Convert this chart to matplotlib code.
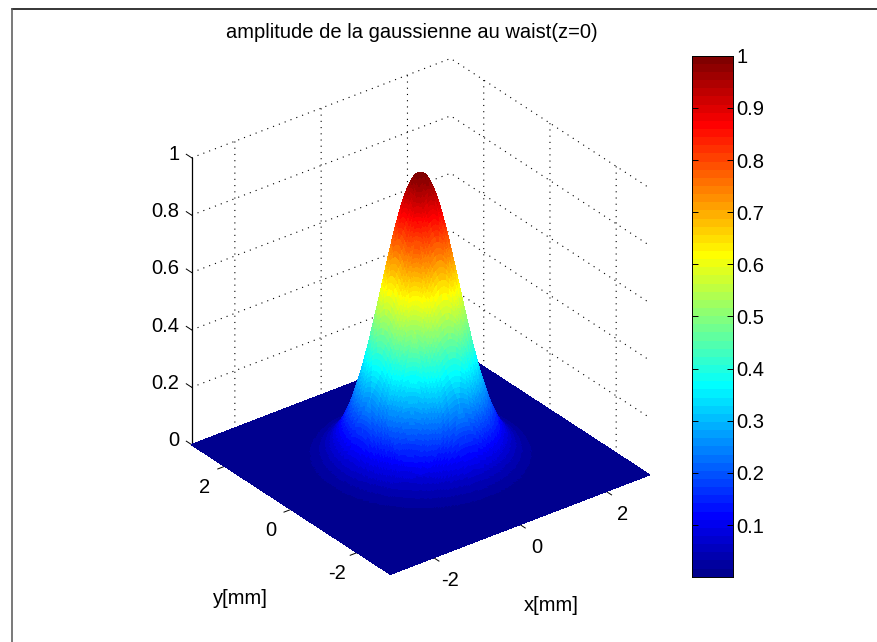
import numpy as np
import matplotlib
matplotlib.use("Agg")
import matplotlib.pyplot as plt
from matplotlib.colors import ListedColormap, Normalize
from matplotlib.lines import Line2D
from matplotlib.transforms import Affine2D
from mpl_toolkits.mplot3d import proj3d

plt.rcParams['font.family'] = ['Liberation Sans', 'DejaVu Sans']
plt.rcParams['axes.unicode_minus'] = False

TITLE = "amplitude de la gaussienne au waist(z=0)"
X_LABEL = "x[mm]"
Y_LABEL = "y[mm]"
XY_TICKS = [-2, 0, 2]
Z_TICKS = [0, 0.2, 0.4, 0.6, 0.8, 1]
Z_TICK_LABELS = ["0", "0.2", "0.4", "0.6", "0.8", "1"]
CB_TICKS = [0.1, 0.2, 0.3, 0.4, 0.5, 0.6, 0.7, 0.8, 0.9, 1]
CB_TICK_LABELS = ["0.1", "0.2", "0.3", "0.4", "0.5", "0.6", "0.7", "0.8", "0.9", "1"]
X_RANGE = (-3, 3)
Y_RANGE = (-3, 3)
Z_RANGE = (0, 1)
CB_MIN = 0.001
WAIST = 1.0
GRID_POINTS = 241

W, H = 878, 642
FS = 14.5

i = np.arange(1, 65) / 64
jet64 = ListedColormap(np.clip(np.column_stack([
    np.minimum(4*i - 1.5, -4*i + 4.5),
    np.minimum(4*i - 0.5, -4*i + 3.5),
    np.minimum(4*i + 0.5, -4*i + 2.5)]), 0, 1))

fig = plt.figure(figsize=(W/100, H/100), dpi=100, facecolor='white')

def px_rect(x0, y0, x1, y1):
    return [x0/W, 1 - y1/H, (x1-x0)/W, (y1-y0)/H]

ax = fig.add_axes(px_rect(100, 0, 740, 640), projection='3d', proj_type='ortho')
ax.set_facecolor('none')
ax.patch.set_alpha(0)
ax.view_init(elev=30, azim=-127.5)
ax.set_box_aspect((1, 1, 1.015))
ax.set_xlim(*X_RANGE, view_margin=0)
ax.set_ylim(*Y_RANGE, view_margin=0)
ax.set_zlim(*Z_RANGE, view_margin=0)

xs = np.linspace(*X_RANGE, GRID_POINTS)
ys = np.linspace(*Y_RANGE, GRID_POINTS)
XX, YY = np.meshgrid(xs, ys)
ZZ = np.exp(-(XX**2 + YY**2) / WAIST**2)
norm = Normalize(CB_MIN, 1)
face_rgba = jet64(norm(ZZ))
surf = ax.plot_surface(XX, YY, ZZ, rstride=1, cstride=1, facecolors=face_rgba,
                       shade=False, linewidth=0.35, antialiased=False)
surf.set_edgecolor(face_rgba[:-1, :-1].reshape(-1, 4))

for axis, inward, outward in ((ax.xaxis, 0.34, 0), (ax.yaxis, 0.34, 0), (ax.zaxis, 0, 0.34)):
    axis.set_pane_color((1, 1, 1, 0))
    axis.pane.set_edgecolor((1, 1, 1, 0))
    axis._axinfo['grid'].update(color='black', linewidth=0.8, linestyle=(0, (1, 4.6)))
    axis._axinfo['tick'].update(inward_factor=inward, outward_factor=outward,
                                linewidth={True: 0.7, False: 0.7}, color='#666666')
    axis.line.set_color('black')
    axis.line.set_linewidth(0.9)
    axis.set_tick_params(labelsize=FS, colors='black')
ax.xaxis.line.set_color((1, 1, 1, 0))
ax.yaxis.line.set_color((1, 1, 1, 0))
ax.zaxis._get_tickdir = lambda position: 1

ax.set_xticks(XY_TICKS)
ax.set_yticks(XY_TICKS)
ax.set_zticks(Z_TICKS)
ax.set_zticklabels(Z_TICK_LABELS, ha='right')
ax.tick_params(axis='x', pad=7)
ax.tick_params(axis='y', pad=7)
ax.tick_params(axis='z', pad=4)

# Fit the projected cube to the reference's pixel box
fig.canvas.draw()
M = ax.get_proj()
def pix(x, y, z):
    a, b, _ = proj3d.proj_transform(x, y, z, M)
    p = ax.transData.transform((a, b))
    return p[0], H - p[1]
left = pix(-3, 3, 0)
right = pix(3, -3, 0)
target_w = 649.3 - 191.7
scale = target_w / (right[0] - left[0])
bb = ax.get_position()
size_px = bb.width * W * scale
cx0 = (left[0] + right[0]) / 2
cy0 = (pix(-3, -3, 0)[1] + pix(3, 3, 1)[1]) / 2
bx = bb.x0 * W + bb.width * W / 2
by = (1 - bb.y0 - bb.height / 2) * H
nx = 420.5 + (bx - cx0) * scale
ny = 316.3 + (by - cy0) * scale
ax.set_position(px_rect(nx - size_px/2, ny - size_px/2, nx + size_px/2, ny + size_px/2))

# Pixel nudges of the real tick labels (mplot3d resets label transforms on each
# tick query, so the setter is pinned after the offset is applied)
for axis, (dx, dy) in ((ax.xaxis, (2.3, 16.3)), (ax.yaxis, (-1, 16.5)), (ax.zaxis, (14, 11.5))):
    for tick in axis.get_major_ticks():
        tick.label1.set_transform(ax.transData + Affine2D().translate(dx, dy))
        tick.label1.set_transform = lambda *_: None

fig.text(412/W, 1 - 33/H, TITLE, ha='center', va='center', fontsize=FS)
fig.text(551.7/W, 1 - 605.7/H, X_LABEL, ha='center', va='center', fontsize=FS)
fig.text(240.7/W, 1 - 599/H, Y_LABEL, ha='center', va='center', fontsize=FS)

cax = fig.add_axes(px_rect(691.7, 55.7, 732.7, 576.7))
levels = np.linspace(CB_MIN, 1, 65)
cax.pcolormesh([0, 1], levels, ((levels[:-1] + levels[1:]) / 2)[:, None], cmap=jet64, norm=norm)
cax.set_xlim(0, 1)
cax.set_ylim(CB_MIN, 1)
cax.set_xticks([])
cax.yaxis.tick_right()
cax.set_yticks(CB_TICKS)
cax.set_yticklabels(CB_TICK_LABELS)
cax.tick_params(axis='y', which='major', direction='in', length=4, width=0.7, left=True, right=True, labelsize=FS, pad=2.5)
for s in cax.spines.values():
    s.set_linewidth(0.7)

fig.add_artist(Line2D([12.5/W, 1], [1 - 8.5/H, 1 - 8.5/H], color='black', lw=1.1, transform=fig.transFigure))
fig.add_artist(Line2D([12.5/W, 12.5/W], [0, 1 - 8.5/H], color='#555555', lw=1.1, transform=fig.transFigure))

fig.savefig('out.png', dpi=100)
